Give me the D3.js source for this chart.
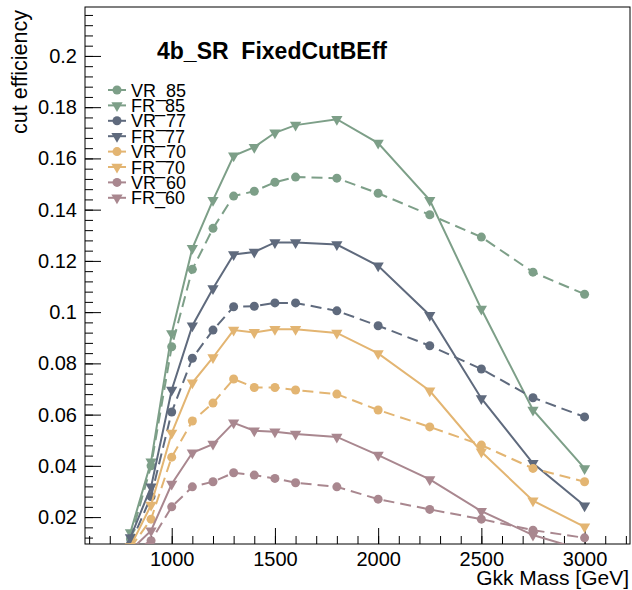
<!DOCTYPE html>
<html>
<head>
<meta charset="utf-8">
<script src="https://cdn.jsdelivr.net/npm/d3@7"></script>
<style>
  body { margin: 0; background: #fff; }
  svg text { font-family: "Liberation Sans", Arial, sans-serif; }
</style>
</head>
<body>
<div id="chart"></div>
<script>
// data
var masses = [800, 900, 1000, 1100, 1200, 1300, 1400, 1500, 1600, 1800, 2000, 2250, 2500, 2750, 3000];

var vr85 = [0.0115, 0.040, 0.0865, 0.1167, 0.1327, 0.1453, 0.1472, 0.1507, 0.1527, 0.1523, 0.1464, 0.138, 0.1293, 0.1156, 0.107];
var fr85 = [0.0140, 0.0416, 0.0917, 0.1249, 0.1437, 0.161, 0.1644, 0.170, 0.173, 0.1753, 0.166, 0.1437, 0.1012, 0.0618, 0.039];
var vr77 = [0.0095, 0.028, 0.061, 0.082, 0.093, 0.1021, 0.1023, 0.1036, 0.1036, 0.1005, 0.0947, 0.0869, 0.0778, 0.0666, 0.0591];
var fr77 = [0.0120, 0.0318, 0.0696, 0.0947, 0.1092, 0.1225, 0.1235, 0.1272, 0.1272, 0.1264, 0.1181, 0.0988, 0.0663, 0.041, 0.0244];
var vr70 = [0.0080, 0.0192, 0.0434, 0.0575, 0.0645, 0.0739, 0.0706, 0.0706, 0.0696, 0.068, 0.0618, 0.0552, 0.0481, 0.039, 0.0338];
var fr70 = [0.0085, 0.0247, 0.0528, 0.0724, 0.0823, 0.093, 0.0921, 0.0933, 0.0933, 0.0919, 0.0839, 0.0693, 0.0455, 0.0264, 0.0162];
var vr60 = [0.0060, 0.0108, 0.024, 0.0318, 0.0338, 0.0373, 0.0364, 0.0351, 0.0334, 0.0318, 0.027, 0.023, 0.0192, 0.0149, 0.0119];
var fr60 = [0.0070, 0.0147, 0.0329, 0.0451, 0.0485, 0.0568, 0.0537, 0.0533, 0.0524, 0.0513, 0.0442, 0.0347, 0.0223, 0.013, 0.007];

var seriesNames = ["VR_85", "FR_85", "VR_77", "FR_77", "VR_70", "FR_70", "VR_60", "FR_60"];
var seriesValues = [vr85, fr85, vr77, fr77, vr70, fr70, vr60, fr60];
var seriesColors = ["#7d9f88", "#7d9f88", "#5f6a7d", "#5f6a7d", "#e3b572", "#e3b572", "#a9878f", "#a9878f"];

var xTicks = [1000, 1500, 2000, 2500, 3000];
var yTicks = [0.02, 0.04, 0.06, 0.08, 0.1, 0.12, 0.14, 0.16, 0.18, 0.2];
var yTickLabels = ["0.02", "0.04", "0.06", "0.08", "0.1", "0.12", "0.14", "0.16", "0.18", "0.2"];

var title = "4b_SR  FixedCutBEff";
var xTitle = "Gkk Mass [GeV]";
var yTitle = "cut efficiency";

function drawChart() {
    var width = 632, height = 590;
    var left = 85, right = 630, top = 7, bottom = 544;

    var svg = d3.select("#chart")
        .append("svg")
        .attr("width", width)
        .attr("height", height);

    var x = d3.scaleLinear().domain([580, 3220]).range([left, right]);
    var y = d3.scaleLinear().domain([0.0095, 0.2191]).range([bottom, top]);

    svg.append("defs").append("clipPath")
        .attr("id", "frameClip")
        .append("rect")
        .attr("x", left).attr("y", top)
        .attr("width", right - left).attr("height", bottom - top);

    //frame
    svg.append("rect")
        .attr("x", left).attr("y", top)
        .attr("width", right - left).attr("height", bottom - top)
        .attr("fill", "none")
        .attr("stroke", "#000")
        .attr("stroke-width", 1);

    //minor ticks
    var xMinor = d3.range(600, 3201, 100);
    var yMinor = d3.range(12, 217, 4).map(function (v) { return v / 1000; });

    svg.append("g")
        .attr("transform", "translate(0," + bottom + ")")
        .call(d3.axisBottom(x).tickValues(xMinor).tickSize(-8).tickFormat(""))
        .call(function (g) { g.select(".domain").remove(); });

    svg.append("g")
        .attr("transform", "translate(" + left + ",0)")
        .call(d3.axisLeft(y).tickValues(yMinor).tickSize(-8).tickFormat(""))
        .call(function (g) { g.select(".domain").remove(); });

    //major ticks
    var xAxis = svg.append("g")
        .attr("transform", "translate(0," + bottom + ")")
        .call(d3.axisBottom(x).tickValues(xTicks).tickSize(-16).tickPadding(8).tickFormat(d3.format("d")));
    xAxis.select(".domain").remove();
    xAxis.selectAll("text")
        .attr("font-size", 20)
        .attr("fill", "#000")
        .attr("font-family", "Liberation Sans, Arial, sans-serif");

    var yAxis = svg.append("g")
        .attr("transform", "translate(" + left + ",0)")
        .call(d3.axisLeft(y).tickValues(yTicks).tickSize(-16).tickPadding(8)
            .tickFormat(function (d, i) { return yTickLabels[i]; }));
    yAxis.select(".domain").remove();
    yAxis.selectAll("text")
        .attr("font-size", 20)
        .attr("fill", "#000")
        .attr("font-family", "Liberation Sans, Arial, sans-serif");

    svg.selectAll(".tick line").attr("stroke", "#000");

    //axis titles
    svg.append("text")
        .attr("x", right - 1)
        .attr("y", 585)
        .attr("text-anchor", "end")
        .attr("font-size", 21)
        .text(xTitle);

    svg.append("text")
        .attr("transform", "translate(27," + (top + 3) + ") rotate(-90)")
        .attr("text-anchor", "end")
        .attr("font-size", 21.5)
        .text(yTitle);

    //title
    svg.append("text")
        .attr("x", 157)
        .attr("y", 59)
        .attr("font-size", 23)
        .attr("font-weight", "bold")
        .style("white-space", "pre")
        .attr("xml:space", "preserve")
        .text(title);

    //graphs
    var plot = svg.append("g").attr("clip-path", "url(#frameClip)");
    var line = d3.line()
        .x(function (d) { return x(d[0]); })
        .y(function (d) { return y(d[1]); });
    var tri = d3.symbol().type(d3.symbolTriangle).size(55);

    seriesNames.forEach(function (name, i) {
        var pts = masses.map(function (m, j) { return [m, seriesValues[i][j]]; });
        var isVR = name.indexOf("VR") === 0;
        plot.append("path")
            .datum(pts)
            .attr("class", "graph " + name)
            .attr("d", line)
            .attr("fill", "none")
            .attr("stroke", seriesColors[i])
            .attr("stroke-width", 2)
            .attr("stroke-dasharray", isVR ? "11,6" : null);

        var marks = plot.selectAll(".m" + name)
            .data(pts)
            .enter();
        if (isVR) {
            marks.append("circle")
                .attr("cx", function (d) { return x(d[0]); })
                .attr("cy", function (d) { return y(d[1]); })
                .attr("r", 4.5)
                .attr("fill", seriesColors[i]);
        } else {
            marks.append("path")
                .attr("d", tri)
                .attr("transform", function (d) {
                    return "translate(" + x(d[0]) + "," + y(d[1]) + ") rotate(180)";
                })
                .attr("fill", seriesColors[i]);
        }
    });

    //legend
    var leg = svg.append("g");
    seriesNames.forEach(function (name, i) {
        var ly = 90 + i * 15.4;
        var isVR = name.indexOf("VR") === 0;
        leg.append("line")
            .attr("x1", 108).attr("x2", 126)
            .attr("y1", ly).attr("y2", ly)
            .attr("stroke", seriesColors[i])
            .attr("stroke-width", 2);
        if (isVR) {
            leg.append("circle")
                .attr("cx", 117).attr("cy", ly).attr("r", 4.5)
                .attr("fill", seriesColors[i]);
        } else {
            leg.append("path")
                .attr("d", tri)
                .attr("transform", "translate(117," + ly + ") rotate(180)")
                .attr("fill", seriesColors[i]);
        }
        leg.append("text")
            .attr("x", 131)
            .attr("y", ly + 6.5)
            .attr("font-size", 18)
            .text(name);
    });
}

window.onload = drawChart;
</script>
</body>
</html>
